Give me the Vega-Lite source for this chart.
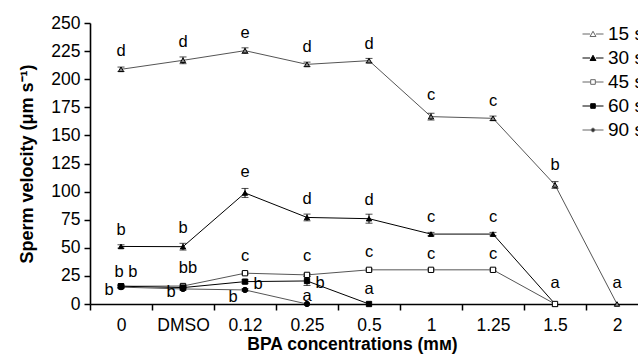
{
  "$schema": "https://vega.github.io/schema/vega-lite/v6.json",
  "width": 548,
  "height": 281,
  "autosize": {"type": "none"},
  "padding": {"left": 90, "top": 23, "right": 0, "bottom": 50},
  "background": "white",
  "config": {
    "view": {"stroke": null},
    "font": "Liberation Sans",
    "axis": {"grid": false, "domainColor": "#000", "tickColor": "#000", "labelColor": "#000", "titleColor": "#000", "domainWidth": 1.6, "tickWidth": 1.5, "tickSize": 6, "labelFontSize": 17.5, "titleFontSize": 17.5, "titleFontWeight": "bold", "labelFont": "Liberation Sans", "titleFont": "Liberation Sans", "labelOverlap": false},
    "legend": {"orient": "none", "legendX": 492, "legendY": 0, "padding": 0, "symbolSize": 441, "symbolStrokeWidth": 1, "symbolOpacity": 1, "labelFontSize": 19, "labelOffset": 4, "rowPadding": 3, "labelColor": "#000"}
  },
  "datasets": {
    "pts": [
      {"c": "0", "s": "15 s", "v": 208.8, "e": 2},
      {"c": "DMSO", "s": "15 s", "v": 216.8, "e": 3},
      {"c": "0.12", "s": "15 s", "v": 225.4, "e": 2.5},
      {"c": "0.25", "s": "15 s", "v": 213.2, "e": 2},
      {"c": "0.5", "s": "15 s", "v": 216.5, "e": 2},
      {"c": "1", "s": "15 s", "v": 166.7, "e": 3},
      {"c": "1.25", "s": "15 s", "v": 165.2, "e": 2},
      {"c": "1.5", "s": "15 s", "v": 105.9, "e": 3},
      {"c": "2", "s": "15 s", "v": 0, "e": 0},
      {"c": "0", "s": "30 s", "v": 51.2, "e": 1.5},
      {"c": "DMSO", "s": "30 s", "v": 51, "e": 3},
      {"c": "0.12", "s": "30 s", "v": 98.8, "e": 4},
      {"c": "0.25", "s": "30 s", "v": 77, "e": 3},
      {"c": "0.5", "s": "30 s", "v": 75.9, "e": 4},
      {"c": "1", "s": "30 s", "v": 62.2, "e": 1.5},
      {"c": "1.25", "s": "30 s", "v": 62.2, "e": 1.5},
      {"c": "1.5", "s": "30 s", "v": 0, "e": 0},
      {"c": "0", "s": "45 s", "v": 15.8, "e": 1},
      {"c": "DMSO", "s": "45 s", "v": 16, "e": 1},
      {"c": "0.12", "s": "45 s", "v": 27.4, "e": 1},
      {"c": "0.25", "s": "45 s", "v": 25.9, "e": 1},
      {"c": "0.5", "s": "45 s", "v": 30.4, "e": 1},
      {"c": "1", "s": "45 s", "v": 30.4, "e": 1},
      {"c": "1.25", "s": "45 s", "v": 30.4, "e": 1},
      {"c": "1.5", "s": "45 s", "v": 0, "e": 0},
      {"c": "0", "s": "60 s", "v": 15.8, "e": 1},
      {"c": "DMSO", "s": "60 s", "v": 14.6, "e": 1},
      {"c": "0.12", "s": "60 s", "v": 19.9, "e": 1.5},
      {"c": "0.25", "s": "60 s", "v": 20.5, "e": 4},
      {"c": "0.5", "s": "60 s", "v": 0, "e": 0},
      {"c": "0", "s": "90 s", "v": 15, "e": 1},
      {"c": "DMSO", "s": "90 s", "v": 13.4, "e": 1},
      {"c": "0.12", "s": "90 s", "v": 12.5, "e": 1},
      {"c": "0.25", "s": "90 s", "v": 0, "e": 0}
    ],
    "lab": [
      {"c": "0", "t": "d", "y": 225, "pos": "C"},
      {"c": "DMSO", "t": "d", "y": 233, "pos": "C"},
      {"c": "0.12", "t": "e", "y": 241, "pos": "C"},
      {"c": "0.25", "t": "d", "y": 228.6, "pos": "C"},
      {"c": "0.5", "t": "d", "y": 231, "pos": "C"},
      {"c": "1", "t": "c", "y": 185.7, "pos": "C"},
      {"c": "1.25", "t": "c", "y": 181, "pos": "C"},
      {"c": "1.5", "t": "b", "y": 124, "pos": "C"},
      {"c": "2", "t": "a", "y": 18.75, "pos": "C"},
      {"c": "0", "t": "b", "y": 66, "pos": "C"},
      {"c": "DMSO", "t": "b", "y": 67.9, "pos": "C"},
      {"c": "0.12", "t": "e", "y": 117, "pos": "C"},
      {"c": "0.25", "t": "d", "y": 93.75, "pos": "C"},
      {"c": "0.5", "t": "d", "y": 92.9, "pos": "C"},
      {"c": "1", "t": "c", "y": 77, "pos": "C"},
      {"c": "1.25", "t": "c", "y": 77, "pos": "C"},
      {"c": "1.5", "t": "a", "y": 19, "pos": "C"},
      {"c": "0", "t": "b b", "y": 28.6, "pos": "P"},
      {"c": "0", "t": "b", "y": 12.5, "pos": "L"},
      {"c": "DMSO", "t": "bb", "y": 32, "pos": "P"},
      {"c": "DMSO", "t": "b", "y": 10.7, "pos": "L"},
      {"c": "0.12", "t": "c", "y": 42.9, "pos": "C"},
      {"c": "0.12", "t": "b", "y": 17.9, "pos": "R"},
      {"c": "0.12", "t": "b", "y": 6.25, "pos": "L"},
      {"c": "0.25", "t": "c", "y": 42.9, "pos": "C"},
      {"c": "0.25", "t": "b", "y": 18.75, "pos": "R"},
      {"c": "0.25", "t": "a", "y": 7.1, "pos": "C"},
      {"c": "0.5", "t": "c", "y": 46.4, "pos": "C"},
      {"c": "0.5", "t": "a", "y": 13.4, "pos": "C"},
      {"c": "1", "t": "c", "y": 44.6, "pos": "C"},
      {"c": "1.25", "t": "c", "y": 44.6, "pos": "C"}
    ]
  },
  "encoding": {
    "x": {
      "field": "c", "type": "nominal",
      "scale": {"domain": ["0", "DMSO", "0.12", "0.25", "0.5", "1", "1.25", "1.5", "2"], "range": [0, 558], "paddingInner": 0, "paddingOuter": 0},
      "axis": {"title": "BPA concentrations (mᴍ)", "labelAngle": 0, "tickBand": "extent", "labelPadding": 6, "titlePadding": 2, "titleX": 262}
    }
  },
  "layer": [
    {
      "data": {"name": "pts"},
      "mark": {"type": "line", "strokeWidth": 1},
      "encoding": {
        "y": {"field": "v", "type": "quantitative", "title": "Sperm velocity (μm s⁻¹)", "scale": {"domain": [0, 250], "nice": false}, "axis": {"values": [0, 25, 50, 75, 100, 125, 150, 175, 200, 225, 250], "labelPadding": 4, "titlePadding": 14, "titleFontSize": 18}},
        "detail": {"field": "s", "type": "nominal"},
        "color": {"condition": {"test": "datum.s === '30 s' || datum.s === '60 s'", "value": "#000"}, "value": "#555"}
      }
    },
    {
      "data": {"name": "pts"},
      "transform": [{"filter": "datum.e > 0"}],
      "mark": {"type": "errorbar", "ticks": {"size": 7}, "color": "#000", "thickness": 1},
      "encoding": {
        "y": {"field": "v", "type": "quantitative", "title": "Sperm velocity (μm s⁻¹)", "axis": {"values": [0, 25, 50, 75, 100, 125, 150, 175, 200, 225, 250], "labelPadding": 4, "titlePadding": 14, "titleFontSize": 18}},
        "yError": {"field": "e"}
      }
    },
    {
      "data": {"name": "pts"},
      "mark": {"type": "point", "size": 28, "strokeWidth": 1, "stroke": "#000", "opacity": 1},
      "encoding": {
        "y": {"field": "v", "type": "quantitative", "title": "Sperm velocity (μm s⁻¹)", "axis": {"values": [0, 25, 50, 75, 100, 125, 150, 175, 200, 225, 250], "labelPadding": 4, "titlePadding": 14, "titleFontSize": 18}},
        "shape": {"condition": [{"test": "datum.s === '45 s' || datum.s === '60 s'", "value": "square"}, {"test": "datum.s === '90 s'", "value": "circle"}], "value": "triangle-up"},
        "fill": {"condition": [{"test": "datum.s === '15 s'", "value": "#888"}, {"test": "datum.s === '45 s'", "value": "#fff"}], "value": "#000"}
      }
    },
    {
      "data": {"name": "pts"},
      "mark": {"type": "point", "size": 28, "strokeWidth": 1, "opacity": 0},
      "encoding": {
        "y": {"field": "v", "type": "quantitative", "title": "Sperm velocity (μm s⁻¹)", "axis": {"values": [0, 25, 50, 75, 100, 125, 150, 175, 200, 225, 250], "labelPadding": 4, "titlePadding": 14, "titleFontSize": 18}},
        "shape": {"field": "s", "type": "nominal", "title": null,
          "scale": {"domain": ["15 s", "30 s", "45 s", "60 s", "90 s"], "range": ["M-1,0H-0.28M0.28,0H1M-0.28,0.24L0,-0.26L0.28,0.24Z", "M-1,0H-0.28M0.28,0H1M-0.28,0.24L0,-0.26L0.28,0.24Z", "M-1,0H-0.22M0.22,0H1M-0.22,-0.22H0.22V0.22H-0.22Z", "M-1,0H-0.22M0.22,0H1M-0.22,-0.22H0.22V0.22H-0.22Z", "M-1,0H1M-0.17,0A0.17,0.17,0,1,0,0.17,0A0.17,0.17,0,1,0,-0.17,0Z"]},
          "legend": {"title": null}},
        "fill": {"field": "s", "type": "nominal", "title": null,
          "scale": {"domain": ["15 s", "30 s", "45 s", "60 s", "90 s"], "range": ["#fff", "#000", "#fff", "#000", "#000"]},
          "legend": {"title": null}},
        "stroke": {"field": "s", "type": "nominal", "title": null,
          "scale": {"domain": ["15 s", "30 s", "45 s", "60 s", "90 s"], "range": ["#666", "#000", "#666", "#000", "#666"]},
          "legend": {"title": null}}
      }
    },
    {
      "data": {"name": "lab"},
      "transform": [{"filter": "datum.pos === 'C'"}],
      "mark": {"type": "text", "fontSize": 16.5, "baseline": "middle", "color": "#000"},
      "encoding": {"y": {"field": "y", "type": "quantitative", "title": "Sperm velocity (μm s⁻¹)", "axis": {"values": [0, 25, 50, 75, 100, 125, 150, 175, 200, 225, 250], "labelPadding": 4, "titlePadding": 14, "titleFontSize": 18}}, "text": {"field": "t"}}
    },
    {
      "data": {"name": "lab"},
      "transform": [{"filter": "datum.pos === 'L'"}],
      "mark": {"type": "text", "fontSize": 16.5, "baseline": "middle", "color": "#000", "dx": -12},
      "encoding": {"y": {"field": "y", "type": "quantitative", "title": "Sperm velocity (μm s⁻¹)", "axis": {"values": [0, 25, 50, 75, 100, 125, 150, 175, 200, 225, 250], "labelPadding": 4, "titlePadding": 14, "titleFontSize": 18}}, "text": {"field": "t"}}
    },
    {
      "data": {"name": "lab"},
      "transform": [{"filter": "datum.pos === 'R'"}],
      "mark": {"type": "text", "fontSize": 16.5, "baseline": "middle", "color": "#000", "dx": 13},
      "encoding": {"y": {"field": "y", "type": "quantitative", "title": "Sperm velocity (μm s⁻¹)", "axis": {"values": [0, 25, 50, 75, 100, 125, 150, 175, 200, 225, 250], "labelPadding": 4, "titlePadding": 14, "titleFontSize": 18}}, "text": {"field": "t"}}
    },
    {
      "data": {"name": "lab"},
      "transform": [{"filter": "datum.pos === 'P'"}],
      "mark": {"type": "text", "fontSize": 16.5, "baseline": "middle", "color": "#000", "dx": 5},
      "encoding": {"y": {"field": "y", "type": "quantitative", "title": "Sperm velocity (μm s⁻¹)", "axis": {"values": [0, 25, 50, 75, 100, 125, 150, 175, 200, 225, 250], "labelPadding": 4, "titlePadding": 14, "titleFontSize": 18}}, "text": {"field": "t"}}
    }
  ]
}
